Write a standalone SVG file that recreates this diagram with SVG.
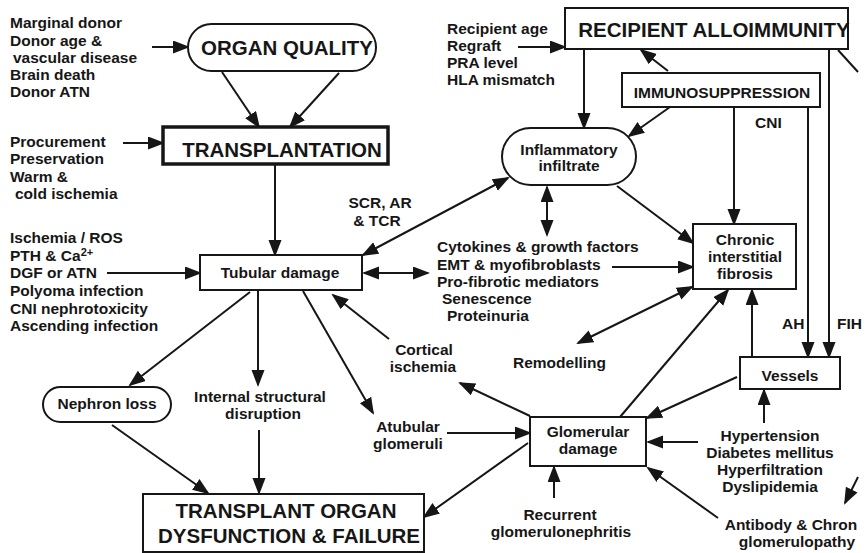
<svg xmlns="http://www.w3.org/2000/svg" width="867" height="553" viewBox="0 0 867 553">
<defs>
<marker id="a" markerUnits="userSpaceOnUse" markerWidth="18" markerHeight="14" refX="15" refY="6.5" orient="auto">
<path d="M0,0 L17,6.5 L0,13 z" fill="#161616"/>
</marker>
<marker id="s" markerUnits="userSpaceOnUse" markerWidth="18" markerHeight="14" refX="15" refY="6.5" orient="auto-start-reverse">
<path d="M0,0 L17,6.5 L0,13 z" fill="#161616"/>
</marker>
</defs>
<style>
text{font-family:"Liberation Sans",Arial,sans-serif;font-weight:bold;fill:#161616;font-size:15.5px}
.big{font-size:20.5px}
.c{text-anchor:middle}
.box{fill:#fff;stroke:#161616;stroke-width:2}
.thick{stroke-width:3.5}
#connectors line{stroke:#161616;stroke-width:2;fill:none}
.e{marker-end:url(#a)}
.d{marker-start:url(#s);marker-end:url(#s)}
</style>
<rect width="867" height="553" fill="#fff"/>

<g id="connectors">
<line class="e" x1="152" y1="47" x2="188" y2="47"/>
<line class="e" x1="222" y1="72" x2="259" y2="127"/>
<line class="e" x1="339" y1="73" x2="290" y2="127"/>
<line class="e" x1="123" y1="143" x2="163" y2="143"/>
<line class="e" x1="275" y1="165" x2="275" y2="255"/>
<line class="e" x1="107" y1="273" x2="200" y2="273"/>
<line class="d" x1="364" y1="273" x2="428" y2="273"/>
<line class="d" x1="363" y1="255" x2="508" y2="178"/>
<line class="e" x1="518" y1="47" x2="565" y2="47"/>
<line class="e" x1="584" y1="49" x2="584" y2="128"/>
<line class="e" x1="668" y1="71" x2="641" y2="50"/>
<line class="e" x1="670" y1="107" x2="629" y2="136"/>
<line class="d" x1="547" y1="187" x2="547" y2="235"/>
<line class="e" x1="617" y1="186" x2="693" y2="243"/>
<line class="e" x1="612" y1="267" x2="693" y2="267"/>
<line class="e" x1="734" y1="107" x2="734" y2="224"/>
<line class="e" x1="808" y1="107" x2="808" y2="357"/>
<line class="e" x1="829" y1="49" x2="829" y2="357"/>
<line x1="838" y1="50" x2="858" y2="72"/>
<line class="e" x1="752" y1="357" x2="752" y2="290"/>
<line class="d" x1="578" y1="343" x2="692" y2="287"/>
<line class="e" x1="620" y1="417" x2="728" y2="290"/>
<line class="e" x1="737" y1="377" x2="647" y2="418"/>
<line class="e" x1="698" y1="442" x2="648" y2="442"/>
<line class="e" x1="764" y1="423" x2="764" y2="390"/>
<line class="e" x1="554" y1="498" x2="554" y2="467"/>
<line class="e" x1="718" y1="518" x2="648" y2="468"/>
<line class="e" x1="528" y1="443" x2="424" y2="517"/>
<line class="e" x1="530" y1="416" x2="460" y2="383"/>
<line class="e" x1="389" y1="339" x2="333" y2="295"/>
<line class="e" x1="303" y1="291" x2="373" y2="413"/>
<line class="e" x1="447" y1="433" x2="530" y2="433"/>
<line class="e" x1="250" y1="292" x2="130" y2="385"/>
<line class="e" x1="258" y1="291" x2="258" y2="385"/>
<line class="e" x1="259" y1="430" x2="259" y2="493"/>
<line class="e" x1="112" y1="425" x2="208" y2="493"/>
<line class="e" x1="858" y1="477" x2="845" y2="503"/>
</g>

<g id="donor-factors">
<text x="10" y="28">Marginal donor</text>
<text x="10" y="46">Donor age &amp;</text>
<text x="13" y="63">vascular disease</text>
<text x="10" y="80">Brain death</text>
<text x="10" y="97">Donor ATN</text>
</g>

<g id="organ-quality">
<rect class="box" x="188" y="24" width="188" height="47" rx="23.5"/>
<text class="big c" x="287" y="55">ORGAN QUALITY</text>
</g>

<g id="procurement-factors">
<text x="10" y="147">Procurement</text>
<text x="10" y="164">Preservation</text>
<text x="10" y="182">Warm &amp;</text>
<text x="15" y="199">cold ischemia</text>
</g>

<g id="transplantation">
<rect class="box thick" x="163" y="127" width="225" height="37"/>
<text class="big c" x="282" y="157">TRANSPLANTATION</text>
</g>

<g id="tubular-factors">
<text x="10" y="243">Ischemia / ROS</text>
<text x="10" y="261">PTH &amp; Ca<tspan font-size="11" dy="-5">2+</tspan></text>
<text x="10" y="278">DGF or ATN</text>
<text x="10" y="296">Polyoma infection</text>
<text x="10" y="314">CNI nephrotoxicity</text>
<text x="10" y="331">Ascending infection</text>
</g>

<g id="tubular-damage">
<rect class="box" x="200" y="255" width="162" height="35"/>
<text class="c" x="280" y="278">Tubular damage</text>
</g>

<g id="scr-label">
<text class="c" x="380" y="208">SCR, AR</text>
<text class="c" x="377" y="226">&amp; TCR</text>
</g>

<g id="recipient-factors">
<text x="447" y="34">Recipient age</text>
<text x="447" y="51">Regraft</text>
<text x="447" y="68">PRA level</text>
<text x="447" y="85">HLA mismatch</text>
</g>

<g id="recipient-alloimmunity">
<rect class="box" x="565" y="8" width="283" height="41"/>
<text class="big c" x="714" y="37">RECIPIENT ALLOIMMUNITY</text>
</g>

<g id="immunosuppression">
<rect class="box" x="622" y="73" width="198" height="34"/>
<text class="c" x="722" y="98">IMMUNOSUPPRESSION</text>
</g>

<g id="cni-label"><text x="755" y="128">CNI</text></g>

<g id="inflammatory-infiltrate">
<rect class="box" x="502" y="128" width="134" height="57" rx="28.5"/>
<text class="c" x="569" y="155">Inflammatory</text>
<text class="c" x="569" y="171">infiltrate</text>
</g>

<g id="mediators">
<text x="437" y="252">Cytokines &amp; growth factors</text>
<text x="437" y="270">EMT &amp; myofibroblasts</text>
<text x="437" y="287">Pro-fibrotic mediators</text>
<text x="442" y="304">Senescence</text>
<text x="447" y="321">Proteinuria</text>
</g>

<g id="chronic-fibrosis">
<rect class="box" x="693" y="224" width="103" height="65"/>
<text class="c" x="745" y="245">Chronic</text>
<text class="c" x="745" y="262">interstitial</text>
<text class="c" x="745" y="279">fibrosis</text>
</g>

<g id="ah-label"><text x="782" y="329">AH</text></g>
<g id="fih-label"><text x="837" y="329">FIH</text></g>

<g id="remodelling"><text x="513" y="368">Remodelling</text></g>

<g id="vessels">
<rect class="box" x="740" y="357" width="100" height="32"/>
<text class="c" x="790" y="381">Vessels</text>
</g>

<g id="cortical-ischemia">
<text class="c" x="424" y="355">Cortical</text>
<text class="c" x="423" y="372">ischemia</text>
</g>

<g id="nephron-loss">
<rect class="box" x="43" y="387" width="128" height="35" rx="17.5"/>
<text class="c" x="107" y="409">Nephron loss</text>
</g>

<g id="internal-disruption">
<text class="c" x="260" y="402">Internal structural</text>
<text class="c" x="263" y="419">disruption</text>
</g>

<g id="atubular-glomeruli">
<text class="c" x="408" y="432">Atubular</text>
<text class="c" x="408" y="449">glomeruli</text>
</g>

<g id="glomerular-damage">
<rect class="box" x="530" y="417" width="116" height="49"/>
<text class="c" x="588" y="437">Glomerular</text>
<text class="c" x="588" y="454">damage</text>
</g>

<g id="systemic-factors">
<text class="c" x="770" y="441">Hypertension</text>
<text class="c" x="770" y="458">Diabetes mellitus</text>
<text class="c" x="770" y="475">Hyperfiltration</text>
<text class="c" x="770" y="492">Dyslipidemia</text>
</g>

<g id="recurrent-gn">
<text class="c" x="560" y="520">Recurrent</text>
<text class="c" x="561" y="537">glomerulonephritis</text>
</g>

<g id="antibody-glomerulopathy">
<text class="c" x="791" y="530">Antibody &amp; Chron</text>
<text class="c" x="797" y="547">glomerulopathy</text>
</g>

<g id="transplant-failure">
<rect class="box" x="143" y="494" width="281" height="58"/>
<text class="big c" x="286" y="518">TRANSPLANT ORGAN</text>
<text class="big c" x="289" y="543">DYSFUNCTION &amp; FAILURE</text>
</g>
</svg>
